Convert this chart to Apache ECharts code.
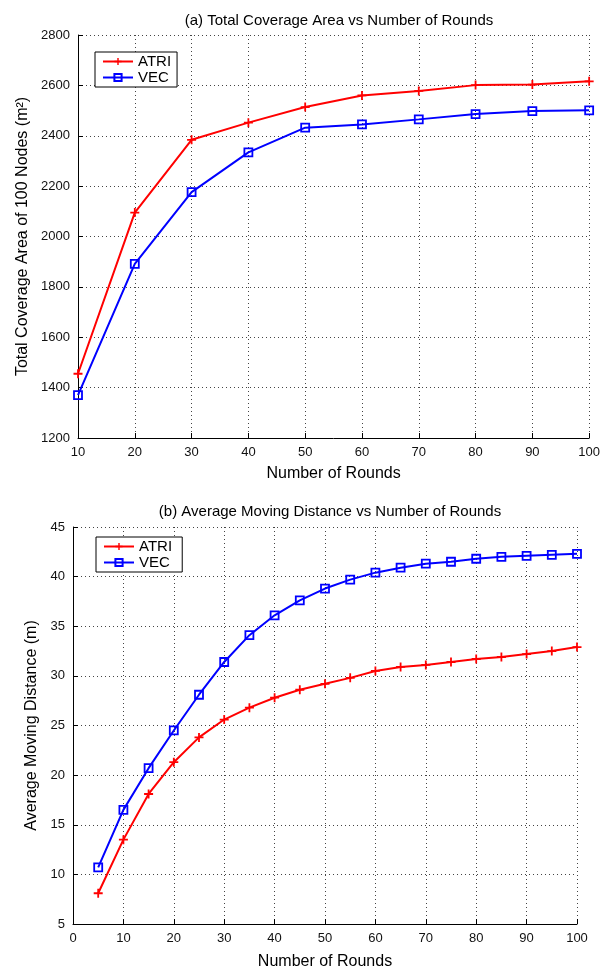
<!DOCTYPE html>
<html>
<head>
<meta charset="utf-8">
<script src="https://cdn.jsdelivr.net/npm/echarts@6/dist/echarts.min.js"></script>
<style>
  html, body { margin: 0; padding: 0; background: #fff; }
  #main { width: 603px; height: 976px; }
</style>
</head>
<body>
<div id="main"></div>
<script>
// (a) 覆盖面积
const roundsA = [10, 20, 30, 40, 50, 60, 70, 80, 90, 100];
const areaAtri = [1455, 2095, 2384, 2452, 2514, 2560, 2578, 2601, 2603, 2616];
const areaVec = [1370, 1891, 2176, 2334, 2432, 2445, 2465, 2486, 2498, 2501];

// (b) 平均移动距离
const roundsB = [5, 10, 15, 20, 25, 30, 35, 40, 45, 50, 55, 60, 65, 70, 75, 80, 85, 90, 95, 100];
const distAtri = [8.1, 13.5, 18.1, 21.3, 23.8, 25.6, 26.8, 27.8, 28.6, 29.2, 29.8, 30.5, 30.9, 31.1, 31.4, 31.7, 31.9, 32.2, 32.5, 32.9];
const distVec = [10.7, 16.5, 20.7, 24.5, 28.1, 31.4, 34.1, 36.1, 37.6, 38.8, 39.7, 40.4, 40.9, 41.3, 41.5, 41.8, 42.0, 42.1, 42.2, 42.3];

const FONT = 'Liberation Sans';
const PLUS = 'path://M4,0H6V4H10V6H6V10H4V6H0V4H4Z';

const pair = (xs, ys) => xs.map((x, i) => [x, ys[i]]);

// 坐标轴公共配置
const axisBase = (idx) => ({
  gridIndex: idx,
  type: 'value',
  axisLine: { show: true, onZero: false, lineStyle: { color: '#000', width: 1 } },
  axisTick: { show: true, inside: true, length: 5, lineStyle: { color: '#000' } },
  axisLabel: { color: '#111', fontSize: 13, fontFamily: FONT, formatter: v => String(v) },
  splitLine: { show: true, lineStyle: { color: '#444', type: [1, 3], width: 1 } },
  nameLocation: 'middle',
  nameTextStyle: { color: '#000', fontSize: 16, fontFamily: FONT }
});

const lineSeries = (name, idx, data, color, isVec) => ({
  name,
  type: 'line',
  xAxisIndex: idx,
  yAxisIndex: idx,
  data,
  symbol: isVec ? 'rect' : PLUS,
  symbolSize: isVec ? 8 : 9,
  lineStyle: { color, width: 2 },
  itemStyle: isVec
    ? { color: 'rgba(0,0,0,0)', borderColor: color, borderWidth: 1.8 }
    : { color },
  emphasis: { disabled: true },
  animation: false
});

const legendBase = (top, idx) => ({
  top,
  left: idx === 0 ? 95 : 96,
  orient: 'vertical',
  data: idx === 0 ? ['ATRI', 'VEC'] : ['ATRI ', 'VEC '],
  backgroundColor: '#fff',
  borderColor: '#000',
  borderWidth: 1,
  borderRadius: 0,
  padding: [2, 6, 2, 7],
  itemGap: 1,
  itemWidth: 30,
  itemHeight: 9,
  textStyle: { color: '#000', fontSize: 15, fontFamily: FONT }
});

const chart = echarts.init(document.getElementById('main'), null, { renderer: 'canvas' });

const option = {
  backgroundColor: '#fff',
  animation: false,
  title: [
    {
      text: '(a) Total Coverage Area vs Number of Rounds',
      left: 334, top: 8, textAlign: 'center',
      textStyle: { fontSize: 15, fontWeight: 'normal', color: '#000', fontFamily: FONT }
    },
    {
      text: '(b) Average Moving Distance vs Number of Rounds',
      left: 325, top: 499, textAlign: 'center',
      textStyle: { fontSize: 15, fontWeight: 'normal', color: '#000', fontFamily: FONT }
    }
  ],
  legend: [legendBase(52, 0), legendBase(537, 1)],
  grid: [
    { left: 78, right: 13, top: 35, height: 403, containLabel: false },
    { left: 73, right: 26, top: 527, height: 397, containLabel: false }
  ],
  xAxis: [
    Object.assign(axisBase(0), { min: 10, max: 100, interval: 10, name: 'Number of Rounds', nameGap: 28 }),
    Object.assign(axisBase(1), { min: 0, max: 100, interval: 10, name: 'Number of Rounds', nameGap: 30 })
  ],
  yAxis: [
    Object.assign(axisBase(0), { min: 1200, max: 2800, interval: 200, name: 'Total Coverage Area of 100 Nodes (m²)', nameGap: 43 }),
    Object.assign(axisBase(1), { min: 5, max: 45, interval: 5, name: 'Average Moving Distance (m)', nameGap: 33 })
  ],
  series: [
    lineSeries('ATRI', 0, pair(roundsA, areaAtri), '#ff0000', false),
    lineSeries('VEC', 0, pair(roundsA, areaVec), '#0000ff', true),
    lineSeries('ATRI ', 1, pair(roundsB, distAtri), '#ff0000', false),
    lineSeries('VEC ', 1, pair(roundsB, distVec), '#0000ff', true)
  ]
};

chart.setOption(option);
</script>
</body>
</html>
